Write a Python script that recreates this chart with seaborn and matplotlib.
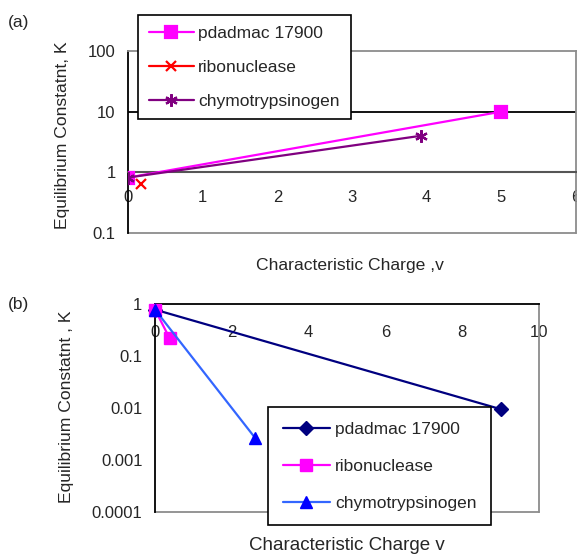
import matplotlib
matplotlib.use("Agg")
import matplotlib.pyplot as plt
import seaborn as sns
import pandas as pd
from matplotlib.ticker import FixedLocator, FixedFormatter, NullLocator

sns.set_style("white")
plt.rcParams['font.family'] = ['Liberation Sans', 'DejaVu Sans']

# ---- panel (a) data ----
a_names = ["pdadmac 17900", "ribonuclease", "chymotrypsinogen"]
a_pd_x = [0, 5]
a_pd_y = [0.82, 10]
a_rib_x = [0.18]
a_rib_y = [0.65]
a_chy_x = [0, 3.92]
a_chy_y = [0.82, 4.0]
a_xticks = [0, 1, 2, 3, 4, 5, 6]
a_yticks = [0.1, 1, 10, 100]
a_ytick_labels = ["0.1", "1", "10", "100"]

# ---- panel (b) data ----
b_names = ["pdadmac 17900", "ribonuclease", "chymotrypsinogen"]
b_pd_x = [0, 9.0]
b_pd_y = [0.78, 0.0095]
b_rib_x = [0, 0.38]
b_rib_y = [0.78, 0.22]
b_chy_x = [0, 2.6]
b_chy_y = [0.78, 0.0027]
b_xticks = [0, 2, 4, 6, 8, 10]
b_yticks = [0.0001, 0.001, 0.01, 0.1, 1]
b_ytick_labels = ["0.0001", "0.001", "0.01", "0.1", "1"]

W, H = 577, 554
fig = plt.figure(figsize=(W / 100, H / 100), dpi=100)

def fx(px):
    return px / W

def fy(py):
    return 1 - py / H

FS = 12
LFS = 12.5
GRAY = "#8c8c8c"

# ---------- panel (a) ----------
L, R, T, B = 128, 576, 51, 233
ax1 = fig.add_axes([fx(L), fy(B), fx(R) - fx(L), fy(T) - fy(B)])
dfa = [
    (a_names[0], a_pd_x, a_pd_y, "#FF00FF", "s", 8, "#FF00FF"),
    (a_names[1], a_rib_x, a_rib_y, "#FF0000", "x", 7, "#FF0000"),
    (a_names[2], a_chy_x, a_chy_y, "#800080", (6, 2, 0), 9, "#800080"),
]
for name, xs, ys, col, mk, ms, mc in dfa:
    d = pd.DataFrame({"v": xs, "K": ys})
    sns.lineplot(data=d, x="v", y="K", ax=ax1, color=col, marker=mk,
                 markersize=ms, markeredgecolor=mc, markerfacecolor=mc,
                 markeredgewidth=1.6, lw=1.6, sort=False, label=name,
                 zorder=5, legend=False)
ax1.set_yscale("log")
ax1.set_ylim(0.1, 100)
ax1.set_xlim(0, 6)
ax1.yaxis.set_major_locator(FixedLocator(a_yticks))
ax1.yaxis.set_major_formatter(FixedFormatter(a_ytick_labels))
ax1.yaxis.set_minor_locator(NullLocator())
ax1.xaxis.set_major_locator(FixedLocator(a_xticks))
ax1.xaxis.set_minor_locator(NullLocator())
ax1.spines['bottom'].set_position(('data', 1))
ax1.spines['bottom'].set_color("#555555")
ax1.spines['bottom'].set_linewidth(1.5)
ax1.spines['left'].set_color("black")
ax1.spines['left'].set_linewidth(1.3)
ax1.spines['top'].set_color(GRAY)
ax1.spines['top'].set_linewidth(1.3)
ax1.spines['right'].set_color(GRAY)
ax1.spines['right'].set_linewidth(1.3)
ax1.axhline(10, color="black", lw=1.3, zorder=1)
ax1.axhline(0.1, color=GRAY, lw=1.3, zorder=1, clip_on=False)
ax1.tick_params(axis="both", which="major", direction="out", length=5,
                width=1.2, color="black", labelsize=FS)
ax1.tick_params(axis="x", pad=8)
ax1.tick_params(axis="y", pad=4)
ax1.set_xlabel("Characteristic Charge ,v", fontsize=12.6)
ax1.set_ylabel("Equilibrium Constatnt, K", fontsize=12.6)
ax1.xaxis.set_label_coords(0.4955, -0.138)
ax1.yaxis.set_label_coords(-0.13, 0.538)
h, l = ax1.get_legend_handles_labels()
leg1 = fig.legend(h, l, loc="upper left", bbox_to_anchor=(fx(138), fy(15)),
                  fontsize=LFS, frameon=True, fancybox=False, edgecolor="black",
                  framealpha=1, handlelength=2.6, labelspacing=1.08,
                  borderpad=0.62, handletextpad=0.25, borderaxespad=0)
leg1.get_frame().set_linewidth(1.2)
fig.text(fx(8), fy(22), "(a)", fontsize=12.5, va="center", ha="left")

# ---------- panel (b) ----------
L, R, T, B = 155, 539, 304, 512
ax2 = fig.add_axes([fx(L), fy(B), fx(R) - fx(L), fy(T) - fy(B)])
dfb = [
    (b_names[0], b_pd_x, b_pd_y, "#000080", "D", 7.5, "#000080"),
    (b_names[1], b_rib_x, b_rib_y, "#FF00FF", "s", 9, "#FF00FF"),
    (b_names[2], b_chy_x, b_chy_y, "#3366FF", "^", 9, "#0000FF"),
]
for name, xs, ys, col, mk, ms, mc in dfb:
    d = pd.DataFrame({"v": xs, "K": ys})
    sns.lineplot(data=d, x="v", y="K", ax=ax2, color=col, marker=mk,
                 markersize=ms, markeredgecolor=mc, markerfacecolor=mc,
                 markeredgewidth=1, lw=1.6, sort=False, label=name,
                 zorder=5, legend=False, clip_on=False)
ax2.set_yscale("log")
ax2.set_ylim(0.0001, 1)
ax2.set_xlim(0, 10)
ax2.yaxis.set_major_locator(FixedLocator(b_yticks))
ax2.yaxis.set_major_formatter(FixedFormatter(b_ytick_labels))
ax2.yaxis.set_minor_locator(NullLocator())
ax2.xaxis.set_major_locator(FixedLocator(b_xticks))
ax2.xaxis.set_minor_locator(NullLocator())
ax2.spines['bottom'].set_position(('data', 1))
ax2.spines['bottom'].set_color("black")
ax2.spines['bottom'].set_linewidth(1.3)
ax2.spines['top'].set_visible(False)
ax2.spines['left'].set_color("black")
ax2.spines['left'].set_linewidth(1.3)
ax2.spines['right'].set_color(GRAY)
ax2.spines['right'].set_linewidth(1.3)
ax2.axhline(0.0001, color=GRAY, lw=1.3, zorder=1, clip_on=False)
ax2.tick_params(axis="both", which="major", direction="out", length=5,
                width=1.2, color="black", labelsize=FS)
ax2.tick_params(axis="x", pad=10)
ax2.tick_params(axis="y", pad=4)
ax2.set_xlabel("Characteristic Charge v", fontsize=13.5)
ax2.set_ylabel("Equilibrium Constatnt , K", fontsize=12.6)
ax2.xaxis.set_label_coords(0.5, -0.12)
ax2.yaxis.set_label_coords(-0.211, 0.505)
h, l = ax2.get_legend_handles_labels()
leg2 = fig.legend(h, l, loc="upper left", bbox_to_anchor=(fx(268), fy(407)),
                  fontsize=LFS, frameon=True, fancybox=False, edgecolor="black",
                  framealpha=1, handlelength=2.7, labelspacing=1.25,
                  borderpad=0.85, handletextpad=0.3, borderaxespad=0)
leg2.get_frame().set_linewidth(1.2)
fig.text(fx(8), fy(305), "(b)", fontsize=12.5, va="center", ha="left")

fig.savefig("out.png", dpi=100)
